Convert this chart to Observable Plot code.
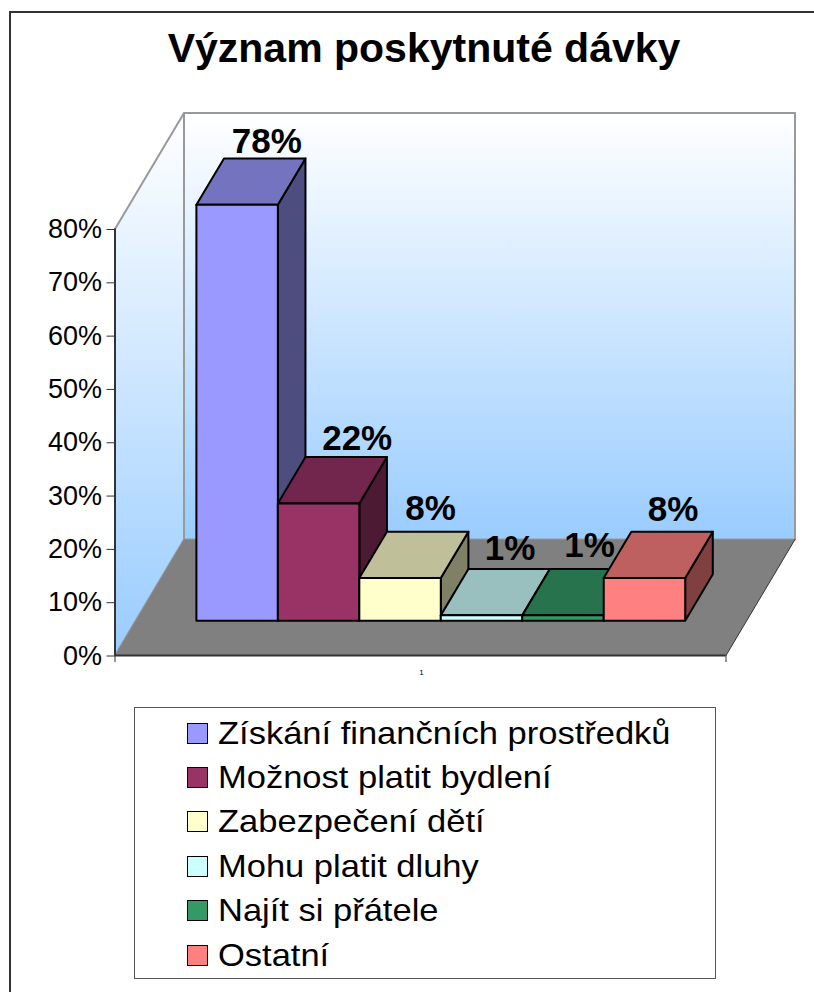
<!DOCTYPE html>
<html lang="cs">
<head>
<meta charset="utf-8">
<script src="https://cdn.jsdelivr.net/npm/d3@7"></script>
<script src="https://cdn.jsdelivr.net/npm/@observablehq/plot@0.6"></script>
<style>
  html, body { margin: 0; padding: 0; background: #fff; overflow: hidden; }
  body { width: 814px; height: 992px; position: relative; font-family: "Liberation Sans", Arial, sans-serif; color: #000; }
  #frame { position: absolute; left: 9px; top: 11px; width: 820px; height: 1000px; border-left: 2px solid #333; border-top: 2px solid #333; box-sizing: border-box; }
  #title { position: relative; height: 100px; line-height: 97px; font-size: 41px; font-weight: bold; text-align: center; width: 848px; white-space: nowrap; }
  #chart { position: relative; height: 600px; }
  #chart svg { display: block; }
  #legend { position: absolute; left: 134px; top: 707px; width: 582px; height: 272px; box-sizing: border-box; border: 1px solid #555; background: #fff; }
  .row { position: absolute; left: 52px; height: 44px; display: flex; align-items: center; font-size: 32px; white-space: nowrap; }
  .row span { display: inline-block; transform: scaleX(1.078); transform-origin: left center; }
  .swatch { width: 19px; height: 19px; border: 1.5px solid #000; margin-right: 10px; flex: none; }
</style>
</head>
<body>
<div id="frame"></div>
<div id="title"></div>
<div id="chart"></div>
<div id="legend"></div>
<script>
const titleText = "Význam poskytnuté dávky";
const categories = ["Získání finančních prostředků", "Možnost platit bydlení", "Zabezpečení dětí", "Mohu platit dluhy", "Najít si přátele", "Ostatní"];
const values = [78, 22, 8, 1, 1, 8];
const colors = ["#9999FF", "#993366", "#FFFFCC", "#CCFFFF", "#339966", "#FF8080"];
const yTicks = [0, 10, 20, 30, 40, 50, 60, 70, 80];
const xTickLabel = "1";

// Oblique 3D projection in scale units: depth 0 = front, 1 = back wall.
const xSpan = 7.5, barStart = 0.745;
const depthX = 0.847, depthY = 21.76;
const barFront = 0.3, barBack = 0.7;
const P = (x, v, d) => ({x: x + d * depthX, y: v + d * depthY});
const shade = (c, k) => { const r = d3.rgb(c); return d3.rgb(r.r * k, r.g * k, r.b * k).formatHex(); };
const poly = (pts, fill, stroke = "#000", strokeWidth = 2) =>
  Plot.line(pts, {x: "x", y: "y", fill, stroke, strokeWidth, curve: "linear-closed"});

const defs = () => {
  const s = d3.create("svg:defs");
  const g = s.append("linearGradient").attr("id", "wall").attr("x1", 0).attr("y1", 0).attr("x2", 0).attr("y2", 1);
  g.append("stop").attr("offset", 0).attr("stop-color", "#FFFFFF");
  g.append("stop").attr("offset", 1).attr("stop-color", "#99CCFF");
  return s.node();
};

const bars = values.flatMap((v, i) => {
  const a = barStart + i, b = a + 1, c = colors[i];
  return [
    poly([P(b, 0, barFront), P(b, 0, barBack), P(b, v, barBack), P(b, v, barFront)], shade(c, 0.5)),
    poly([P(a, v, barFront), P(b, v, barFront), P(b, v, barBack), P(a, v, barBack)], shade(c, 0.75)),
    poly([P(a, 0, barFront), P(b, 0, barFront), P(b, v, barFront), P(a, v, barFront)], c)
  ];
});

// Data labels sit over the rear edge of each bar's top; the nudges follow the reference's placement.
const labelDx = [2, 11, 3, 1, -1, 1];
const labelDy = [-5, -7, -12, -9, -12, -11];
const labels = values.map((v, i) => {
  const p = P(barStart + i + 0.5, v, barBack);
  return Plot.text([p], {x: "x", y: "y", text: () => v + "%", fontSize: 35, fontWeight: "bold",
    lineAnchor: "bottom", dx: labelDx[i], dy: labelDy[i], fill: "#000"});
});

const chart = Plot.plot({
  width: 814, height: 600,
  marginLeft: 114.5, marginRight: 88.5, marginTop: 128.5, marginBottom: 45,
  x: {domain: [0, xSpan], axis: null},
  y: {domain: [0, 80], axis: null},
  style: {background: "transparent", overflow: "visible", fontFamily: '"Liberation Sans", Arial, sans-serif', color: "#000"},
  marks: [
    defs,
    poly([P(0, 0, 1), P(xSpan, 0, 1), P(xSpan, 80, 1), P(0, 80, 1)], "url(#wall)", "#999", 2),
    poly([P(0, 0, 0), P(0, 0, 1), P(0, 80, 1), P(0, 80, 0)], "url(#wall)", "#999", 2),
    poly([P(0, 0, 0), P(xSpan, 0, 0), P(xSpan, 0, 1), P(0, 0, 1)], "#808080", "none"),
    Plot.line([P(xSpan, 0, 0), P(xSpan, 0, 1)], {x: "x", y: "y", stroke: "#333", strokeWidth: 1}),
    ...bars,
    ...labels,
    Plot.ruleY([0], {stroke: "#333", strokeWidth: 2}),
    Plot.ruleX([0], {y1: 0, y2: 80, stroke: "#333", strokeWidth: 2}),
    Plot.axisY({ticks: yTicks, tickFormat: d => d + "%", tickSize: 8, tickPadding: 5, fontSize: 27, stroke: "#333", label: null, textStroke: "none", dy: 0.5}),
    Plot.axisX({ticks: [0, xSpan], tickSize: 7, tickFormat: () => "", stroke: "#333", label: null}),
    Plot.axisX({ticks: [xSpan / 2], tickSize: 0, tickPadding: 14, fontSize: 8, tickFormat: () => xTickLabel, label: null, dx: 1})
  ]
});

document.getElementById("title").textContent = titleText;
document.getElementById("chart").appendChild(chart);
const legend = d3.select("#legend");
categories.forEach((c, i) => {
  const row = legend.append("div").attr("class", "row").style("top", (3 + i * 44.4) + "px");
  row.append("div").attr("class", "swatch").style("background", colors[i]);
  row.append("span").text(c);
});
</script>
</body>
</html>
